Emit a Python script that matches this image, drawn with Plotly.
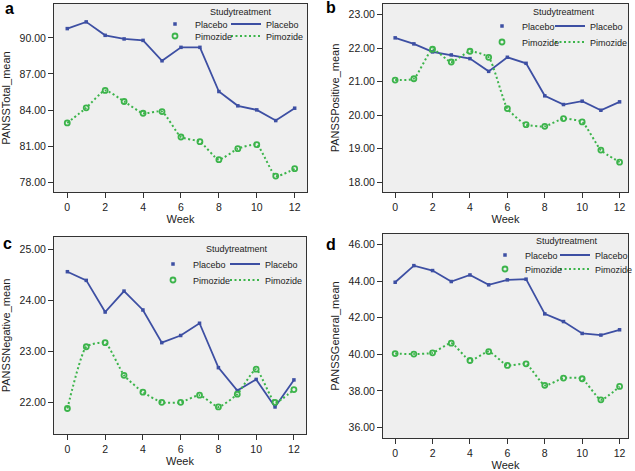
import plotly.graph_objects as go

weeks = list(range(13))

# PANSS means, per panel
total_placebo = [90.78, 91.34, 90.22, 89.92, 89.80, 88.10, 89.22, 89.22, 85.54, 84.35, 84.01, 83.12, 84.15]
total_pimozide = [82.92, 84.18, 85.63, 84.71, 83.73, 83.87, 81.75, 81.36, 79.86, 80.78, 81.11, 78.50, 79.11]

positive_placebo = [22.31, 22.13, 21.89, 21.80, 21.69, 21.31, 21.73, 21.55, 20.58, 20.32, 20.42, 20.15, 20.40]
positive_pimozide = [21.05, 21.09, 21.97, 21.59, 21.91, 21.73, 20.20, 19.72, 19.67, 19.90, 19.80, 18.96, 18.60]

negative_placebo = [24.56, 24.39, 23.77, 24.18, 23.81, 23.17, 23.31, 23.55, 22.68, 22.23, 22.45, 21.91, 22.44]
negative_pimozide = [21.88, 23.09, 23.17, 22.53, 22.20, 22.00, 22.00, 22.14, 21.91, 22.16, 22.65, 22.00, 22.25]

general_placebo = [43.94, 44.85, 44.58, 43.98, 44.34, 43.80, 44.07, 44.11, 42.21, 41.79, 41.14, 41.05, 41.34]
general_pimozide = [40.04, 40.01, 40.08, 40.61, 39.66, 40.15, 39.39, 39.48, 38.30, 38.70, 38.66, 37.51, 38.24]

y_titles = ["PANSSTotal_mean", "PANSSPositive_mean", "PANSSNegative_mean", "PANSSGeneral_mean"]
panel_letters = ["a", "b", "c", "d"]

W, H = 635, 471
BLUE = "#3d4fa3"
GREEN = "#3cb44b"
FONT = "Liberation Sans, Arial, sans-serif"

# plot boxes in pixels: left, right, top, bottom
boxes = [(54, 307, 4, 192), (383, 628, 4, 192), (54, 306, 237, 434), (383, 628, 234, 438)]
yranges = [[77.17, 92.83], [17.71, 23.32], [21.38, 25.24], [35.42, 46.58]]
xranges = [[-0.7, 12.65], [-0.65, 12.45], [-0.71, 12.64], [-0.65, 12.45]]
ytick_sets = [[78, 81, 84, 87, 90], [18, 19, 20, 21, 22, 23], [22, 23, 24, 25], [36, 38, 40, 42, 44, 46]]
# legend placement relative to plot box: title centre x, title y, col1 text x, col2 text x, row1 y, row2 y
legend_pos = [(187, 8, 141, 212, 20, 32), (181, 8, 139, 207, 22, 38),
              (183, 12, 139, 211, 27, 43), (184, 7, 142, 212, 21, 35)]
# panel letter positions (left x, centre y) in pixels
letter_pos = [(3, 9), (324, 8), (1, 243), (324, 244)]

series = [(total_placebo, total_pimozide), (positive_placebo, positive_pimozide),
          (negative_placebo, negative_pimozide), (general_placebo, general_pimozide)]

fig = go.Figure()
layout = {}
annotations = []


def px(x):
    return x / W


def py(y):
    return 1 - y / H


def legend_id(k):
    return "legend" if k == 1 else "legend%d" % k


for i, (plac, pimo) in enumerate(series):
    n = "" if i == 0 else str(i + 1)
    xa, ya = "x" + n, "y" + n
    # one legend per entry: marker placebo, line placebo, marker pimozide, line pimozide
    lg = [legend_id(4 * i + k) for k in range(1, 5)]

    # lines
    fig.add_trace(go.Scatter(x=weeks, y=plac, mode="lines", name="Placebo", xaxis=xa, yaxis=ya,
                             line=dict(color=BLUE, width=1.8), legend=lg[1]))
    fig.add_trace(go.Scatter(x=weeks, y=pimo, mode="lines", name="Pimozide", xaxis=xa, yaxis=ya,
                             line=dict(color=GREEN, width=2, dash="2px,2.5px", shape="spline", smoothing=0.5),
                             legend=lg[3]))
    # markers
    fig.add_trace(go.Scatter(x=weeks, y=plac, mode="markers", name="Placebo", xaxis=xa, yaxis=ya,
                             marker=dict(symbol="square", size=3.5, color=BLUE), legend=lg[0]))
    fig.add_trace(go.Scatter(x=weeks, y=pimo, mode="markers", name="Pimozide", xaxis=xa, yaxis=ya,
                             marker=dict(symbol="circle-open", size=5, color=GREEN, line=dict(width=1.8)),
                             legend=lg[2]))

    l, r, t, b = boxes[i]
    layout["xaxis" + n] = dict(
        domain=[px(l), px(r)], range=xranges[i], anchor=ya, tickvals=[0, 2, 4, 6, 8, 10, 12],
        ticks="outside", ticklen=5, tickcolor="#333", showline=True, linecolor="#333", linewidth=1,
        mirror=True, showgrid=False, zeroline=False, tickfont=dict(size=10.5, color="#222"),
        title=dict(text="Week", font=dict(size=11, color="#222"), standoff=3))
    layout["yaxis" + n] = dict(
        domain=[py(b), py(t)], range=yranges[i], anchor=xa, tickvals=ytick_sets[i], tickformat=".2f",
        ticks="outside", ticklen=5, tickcolor="#333", showline=True, linecolor="#333", linewidth=1,
        mirror=True, showgrid=False, zeroline=False, tickfont=dict(size=10.5, color="#222"),
        title=dict(text=y_titles[i], font=dict(size=11, color="#222"), standoff=6))

    tx, ty, c1, c2, r1, r2 = legend_pos[i]
    for leg, cx, ry in ((lg[0], c1, r1), (lg[1], c2, r1), (lg[2], c1, r2), (lg[3], c2, r2)):
        layout[leg] = dict(orientation="h", x=px(l + cx - 40), xanchor="left", y=py(t + ry), yanchor="middle",
                           bgcolor="rgba(0,0,0,0)", borderwidth=0,
                           font=dict(size=9, family=FONT, color="#222"),
                           itemclick=False, itemdoubleclick=False)
    annotations.append(dict(text="Studytreatment", x=px(l + tx), y=py(t + ty), xref="paper", yref="paper",
                            showarrow=False, xanchor="center", yanchor="middle",
                            font=dict(size=9, color="#222")))
    lx, ly = letter_pos[i]
    annotations.append(dict(text="<b>%s</b>" % panel_letters[i], x=px(lx), y=py(ly),
                            xref="paper", yref="paper", showarrow=False,
                            xanchor="left", yanchor="middle", font=dict(size=16, color="#000")))

fig.update_layout(**layout)
fig.update_layout(
    width=W, height=H, margin=dict(l=0, r=0, t=0, b=0, autoexpand=False),
    paper_bgcolor="white", plot_bgcolor="#efefef",
    font=dict(family=FONT, color="#222"),
    annotations=annotations,
    showlegend=True,
)

fig.write_html("out.html", config={"displayModeBar": False},
               post_script="document.body.style.margin='0';")
